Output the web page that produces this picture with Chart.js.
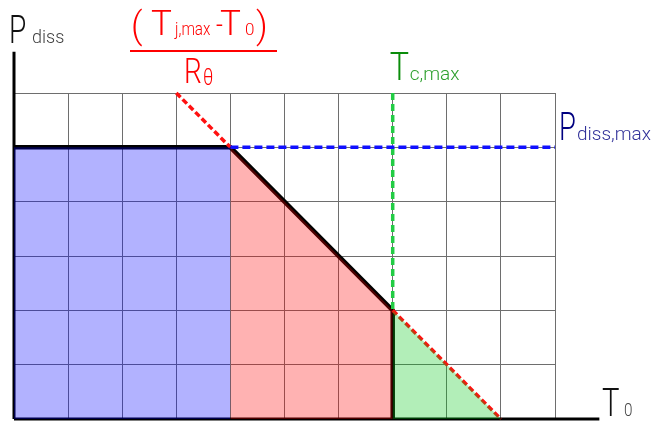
<!DOCTYPE html>
<html>
<head>
<meta charset="utf-8">
<title>Power dissipation derating</title>
<script src="https://cdn.jsdelivr.net/npm/chart.js@4/dist/chart.umd.min.js"></script>
<style>
  html, body { margin: 0; padding: 0; background: #ffffff; }
  #wrap { width: 656px; height: 421px; }
</style>
</head>
<body>
<div id="wrap"><canvas id="chart" width="656" height="421"></canvas></div>
<script>
// Axis ranges (ambient temperature T0 on x, dissipated power on y, in grid units)
const tRange = [0, 10];
const pRange = [0, 6];

// Derating curve: flat at Pdiss,max, then thermal-resistance slope, cut at Tc,max
const deratingT = [0, 4, 7, 7];
const deratingP = [5, 5, 2, 0];

// (Tj,max - T0) / Rθ limit line; the middle part lies under the derating curve
const thermalT = [3, 4, 5.5, 7, 9];
const thermalP = [6, 5, null, 2, 0];

// Pdiss,max reference line
const pmaxT = [4, 10];
const pmaxP = [5, 5];

// Tc,max reference line
const tcT = [7, 7];
const tcP = [6, 2];

// Shaded operating regions
const blueT = [0, 4];   const blueP = [5, 5];
const redT = [4, 7];    const redP = [5, 2];
const greenT = [7, 9];  const greenP = [2, 0];

// Axis arrows (drawn past the grid)
const xAxisT = [0, 10.82]; const xAxisP = [0, 0];
const yAxisT = [0, 0];     const yAxisP = [0, 6.76];

const pts = (xs, ys) => xs.map((x, i) => ({ x: x, y: ys[i] }));

function area(xs, ys, color) {
  return { data: pts(xs, ys), fill: 'origin', backgroundColor: color,
           borderWidth: 0, pointRadius: 0, tension: 0 };
}
function line(xs, ys, color, width, dash) {
  return { data: pts(xs, ys), fill: false, borderColor: color, borderWidth: width,
           borderDash: dash || [], pointRadius: 0, tension: 0, spanGaps: false,
           borderCapStyle: 'butt', borderJoinStyle: 'miter', clip: false };
}

const SANS = '"Liberation Sans", Arial, sans-serif';
const LIGHT = '300 {s}px Roboto, "Liberation Sans", sans-serif';

// Draws a text piece; sx squeezes glyphs horizontally
function put(ctx, text, x, y, size, color, sx, light) {
  ctx.save();
  ctx.font = light ? LIGHT.replace('{s}', size) : size + 'px ' + SANS;
  ctx.fillStyle = color;
  ctx.textBaseline = 'alphabetic';
  ctx.textAlign = 'left';
  ctx.translate(x, y);
  ctx.scale(sx || 1, 1);
  ctx.fillText(text, 0, 0);
  ctx.restore();
}

const labels = {
  id: 'labels',
  afterDraw(chart) {
    const ctx = chart.ctx;
    // Pdiss (y axis)
    put(ctx, 'P', 9, 43, 39, '#111111', 0.72, true);
    put(ctx, 'diss', 32, 43, 18, '#444444', 1, true);

    // (Tj,max - T0) / Rθ
    const red = '#ff0000';
    put(ctx, '(', 131, 38, 36, red, 1, true);
    put(ctx, 'T', 151, 35, 35, red, 1, true);
    put(ctx, 'j,max', 175, 35, 19, red, 0.8, true);
    put(ctx, '-', 216, 35, 30, red, 0.8, true);
    put(ctx, 'T', 220, 35, 35, red, 1, true);
    put(ctx, '0', 245, 35, 17, red, 1, true);
    put(ctx, ')', 256, 38, 36, red, 1, true);
    ctx.fillStyle = red;
    ctx.fillRect(130, 50, 147, 2);
    put(ctx, 'R', 184, 83, 35, red, 0.8, true);
    put(ctx, 'θ', 203, 85, 24, red, 0.75, true);

    // Tc,max
    const tcx = chart.scales.x.getPixelForValue(tcT[0]);
    put(ctx, 'T', tcx - 3, 80, 38, '#0a8c0a', 0.85, true);
    put(ctx, 'c,max', tcx + 17, 80, 19, '#2ea02e', 1, true);

    // Pdiss,max
    put(ctx, 'P', 559, 140, 38, '#000080', 0.72, true);
    put(ctx, 'diss,max', 577, 140, 19, '#33339a', 1, true);

    // T0 (x axis)
    put(ctx, 'T', 602, 416, 39, '#111111', 0.75, true);
    put(ctx, '0', 624, 416, 18, '#444444', 0.85, true);
  }
};

new Chart(document.getElementById('chart'), {
  type: 'line',
  data: {
    datasets: [
      area(blueT, blueP, 'rgba(0, 0, 255, 0.30)'),
      area(redT, redP, 'rgba(255, 0, 0, 0.30)'),
      area(greenT, greenP, 'rgba(0, 200, 20, 0.30)'),
      line(pmaxT, pmaxP, '#1010ff', 3.5, [8, 4]),
      line(tcT, tcP, '#22cc44', 3.5, [7, 4]),
      line(thermalT, thermalP, '#ff1010', 3.5, [6, 3]),
      line(deratingT, deratingP, '#000000', 4.5),
      line(xAxisT, xAxisP, '#000000', 3),
      line(yAxisT, yAxisP, '#000000', 3)
    ]
  },
  options: {
    responsive: false,
    devicePixelRatio: 1,
    animation: false,
    events: [],
    layout: { padding: { left: 14, right: 101, top: 93, bottom: 2 } },
    plugins: { legend: { display: false }, tooltip: { enabled: false } },
    scales: {
      x: {
        type: 'linear', min: tRange[0], max: tRange[1],
        ticks: { display: false, stepSize: 1 },
        grid: { color: '#6e6e6e', lineWidth: 1, drawTicks: false },
        border: { display: false }
      },
      y: {
        type: 'linear', min: pRange[0], max: pRange[1],
        ticks: { display: false, stepSize: 1 },
        grid: { color: '#6e6e6e', lineWidth: 1, drawTicks: false },
        border: { display: false }
      }
    }
  },
  plugins: [labels]
});
</script>
</body>
</html>
